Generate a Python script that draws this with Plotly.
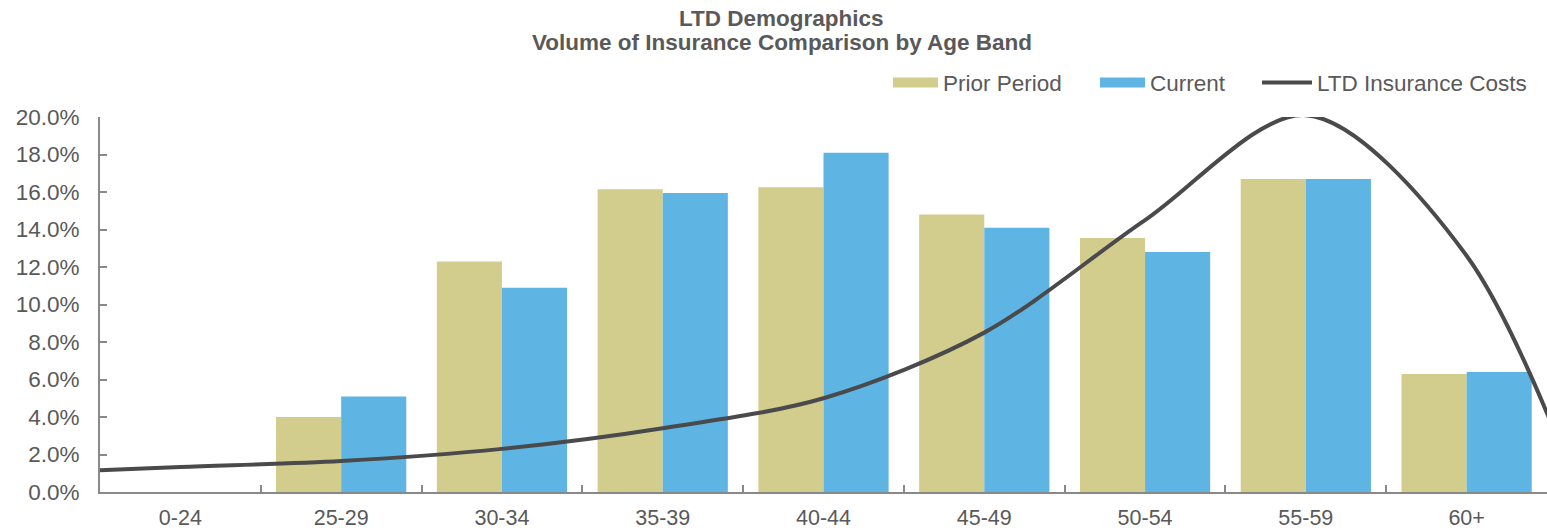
import numpy as np
import plotly.graph_objects as go

# Age bands on the category axis
age_bands = ["0-24", "25-29", "30-34", "35-39", "40-44", "45-49", "50-54", "55-59", "60+"]

# Share of insurance volume by age band
prior_period = [0.0, 0.040, 0.123, 0.1615, 0.1625, 0.148, 0.1355, 0.167, 0.063]
current = [0.0, 0.051, 0.109, 0.1595, 0.181, 0.141, 0.128, 0.167, 0.064]

# LTD insurance cost curve; first and last values sit one band outside the axis
cost_curve = [0.010, 0.0133, 0.0165, 0.023, 0.034, 0.050, 0.085, 0.145, 0.201, 0.126, -0.07]

y_ticks = [0.0, 0.02, 0.04, 0.06, 0.08, 0.10, 0.12, 0.14, 0.16, 0.18, 0.20]

OLIVE = "#D2CD8C"
BLUE = "#5EB5E3"
LINE = "#4A4A4C"
TEXT = "#595959"
AXIS = "#898989"
FONT = "Liberation Sans, Arial, sans-serif"
FS = 22.5
FS_X = 21.5

fig = go.Figure()

fig.add_trace(go.Bar(x=age_bands, y=prior_period, name="Prior Period", marker_color=OLIVE,
                     marker_line_width=0, legendgroup="prior", showlegend=False))
fig.add_trace(go.Bar(x=age_bands, y=current, name="Current", marker_color=BLUE,
                     marker_line_width=0, legendgroup="current", showlegend=False))

# wide swatches for the bar series in the legend
fig.add_trace(go.Scatter(x=[None], y=[None], mode="lines", name="Prior Period",
                         line=dict(color=OLIVE, width=12), legendgroup="prior", legend="legend"))
fig.add_trace(go.Scatter(x=[None], y=[None], mode="lines", name="Current",
                         line=dict(color=BLUE, width=12), legendgroup="current", legend="legend2"))

cost_pos = np.arange(len(cost_curve)) - 1
fig.add_trace(go.Scatter(x=cost_pos, y=cost_curve, xaxis="x2", mode="lines",
                         name="LTD Insurance Costs",
                         line=dict(color=LINE, width=4, shape="spline", smoothing=0.9),
                         legend="legend3"))

legend_common = dict(orientation="h", yanchor="middle", y=1.0907, xanchor="left",
                     font=dict(family=FONT, size=FS, color=TEXT), bgcolor="rgba(0,0,0,0)")

fig.update_layout(
    width=1547, height=531,
    margin=dict(l=100, r=0, t=117, b=39, autoexpand=False),
    paper_bgcolor="white", plot_bgcolor="white",
    barmode="group", bargap=0.19, bargroupgap=0,
    font=dict(family=FONT, size=FS, color=TEXT),
    xaxis=dict(type="category", tickson="boundaries", ticks="inside", ticklen=7,
               tickcolor=AXIS, tickwidth=1.5, showline=True, linecolor=AXIS, linewidth=2,
               showgrid=False, tickfont=dict(family=FONT, size=FS_X, color=TEXT),
               ticklabelstandoff=5, automargin=False),
    xaxis2=dict(overlaying="x", range=[-0.5, len(age_bands) - 0.5], visible=False),
    yaxis=dict(range=[0, 0.2], tickvals=y_ticks, tickformat=".1%", ticks="inside", ticklen=7,
               tickcolor=AXIS, tickwidth=1.5, showline=True, linecolor=AXIS, linewidth=2,
               showgrid=False, zeroline=False, tickfont=dict(family=FONT, size=FS, color=TEXT),
               ticklabelstandoff=14, automargin=False),
    legend=dict(legend_common, x=(888 - 100) / 1447, itemwidth=45),
    legend2=dict(legend_common, x=(1095 - 100) / 1447, itemwidth=45),
    legend3=dict(legend_common, x=(1257 - 100) / 1447, itemwidth=50),
    showlegend=True,
)

fig.add_annotation(text="<b>LTD Demographics</b>", xref="paper", yref="paper", x=0.4713, y=1.2635,
                   xanchor="center", yanchor="middle", showarrow=False,
                   font=dict(family=FONT, size=FS, color=TEXT))
fig.add_annotation(text="<b>Volume of Insurance Comparison by Age Band</b>", xref="paper", yref="paper",
                   x=0.4713, y=1.1985, xanchor="center", yanchor="middle", showarrow=False,
                   font=dict(family=FONT, size=FS, color=TEXT))

fig.write_html("out.html")
